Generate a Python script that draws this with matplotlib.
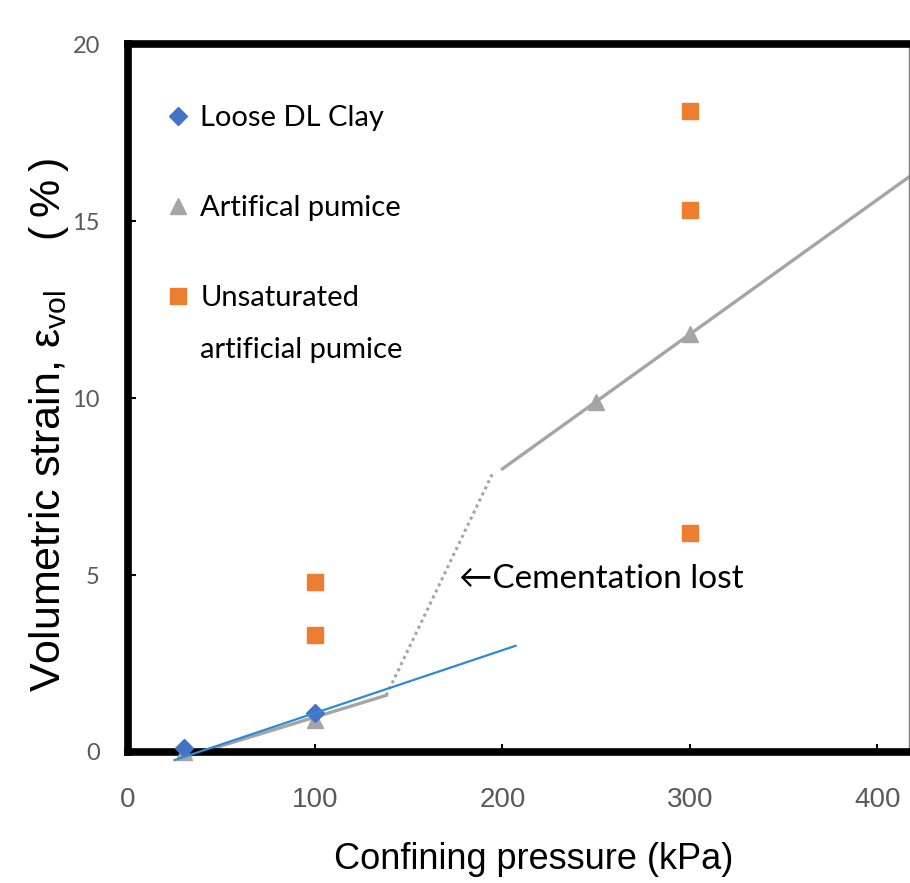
import matplotlib
matplotlib.use('Agg')
import matplotlib.pyplot as plt
from matplotlib.lines import Line2D

# data
clay_x = [30, 100]
clay_y = [0.1, 1.1]
pumice_x = [30, 100, 250, 300]
pumice_y = [0.0, 0.9, 9.9, 11.8]
unsat_x = [100, 100, 300, 300, 300]
unsat_y = [4.8, 3.3, 18.1, 15.3, 6.2]

# trend lines
clay_fit_x = [25, 207]
clay_fit_y = [-0.23, 3.0]
pum_low_x = [30, 138]
pum_low_y = [-0.15, 1.6]
pum_gap_x = [138, 195]
pum_gap_y = [1.6, 7.9]
pum_high_x = [200, 417]
pum_high_y = [8.0, 16.25]

x_ticks = [0, 100, 200, 300, 400]
y_ticks = [0, 5, 10, 15, 20]

blue = '#4472C4'
trend_blue = '#2E8AD4'
grey = '#A5A5A5'
orange = '#ED7D31'
tick_grey = '#595959'

narrow = ['Liberation Sans Narrow', 'Liberation Sans', 'DejaVu Sans']
calib = ['Lato', 'DejaVu Sans']

fig = plt.figure(figsize=(9.1, 8.83), dpi=100)
ax = fig.add_axes([0.1403, 0.1484, 0.8587, 0.8016])

ax.plot(pum_low_x, pum_low_y, color=grey, lw=2.4, clip_on=False, zorder=2)
ax.plot(pum_gap_x, pum_gap_y, color=grey, lw=2.2, ls=(0, (1, 1.2)), clip_on=False, zorder=2)
ax.plot(pum_high_x, pum_high_y, color=grey, lw=2.4, clip_on=False, zorder=2)
ax.plot(pumice_x, pumice_y, ls='none', marker='^', ms=12, color=grey, clip_on=False, zorder=3)
ax.plot(clay_x, clay_y, ls='none', marker='D', ms=9, color=blue, clip_on=False, zorder=4)
ax.plot(clay_fit_x, clay_fit_y, color=trend_blue, lw=1.6, clip_on=False, zorder=5)
ax.plot(unsat_x, unsat_y, ls='none', marker='s', ms=12, color=orange, clip_on=False, zorder=3)

ax.set_xlim(0, 417)
ax.set_ylim(0, 20)
ax.set_xticks(x_ticks)
ax.set_yticks(y_ticks)
ax.set_xticklabels([str(v) for v in x_ticks], family=narrow, fontsize=20, color=tick_grey)
ax.set_yticklabels([str(v) for v in y_ticks], family=calib, fontsize=17, color=tick_grey)
ax.tick_params(axis='x', direction='in', length=6, width=1.5, pad=25)
ax.tick_params(axis='y', direction='in', length=6, width=1.5, pad=20)

for side in ['left', 'top', 'bottom']:
    ax.spines[side].set_linewidth(5.5)
    ax.spines[side].set_color('black')
ax.spines['right'].set_linewidth(1)
ax.spines['right'].set_color('#7F7F7F')

ax.set_xlabel('Confining pressure (kPa)', family=narrow, fontsize=26)
ax.xaxis.set_label_coords(0.52, -0.127)
ax.set_ylabel('Volumetric strain, $\\mathregular{ε_{vol}}$    (\u2009%\u2009)',
              family=['Liberation Sans', 'DejaVu Sans'], fontsize=31)
ax.yaxis.set_label_coords(-0.073, 0.462)

ax.text(177, 4.9, '\u2190Cementation lost', family=calib, fontsize=24, va='center', ha='left')

handles = [
    Line2D([], [], ls='none', marker='D', ms=9, color=blue),
    Line2D([], [], ls='none', marker='^', ms=12, color=grey),
    Line2D([], [], ls='none', marker='s', ms=12, color=orange),
]
labels = ['Loose DL Clay', 'Artifical pumice', 'Unsaturated']
leg = ax.legend(handles, labels, loc='upper left', bbox_to_anchor=(0.05, 0.914),
                frameon=False, prop={'family': calib, 'size': 21},
                handlelength=0.8, handletextpad=0.35, labelspacing=2.2,
                borderpad=0, borderaxespad=0)
ax.annotate('artificial pumice', xy=(0, 0), xycoords=leg.get_texts()[2],
            xytext=(0, -37), textcoords='offset points', family=calib, fontsize=21,
            ha='left', va='bottom', zorder=10)

fig.savefig('out.png', dpi=100)
